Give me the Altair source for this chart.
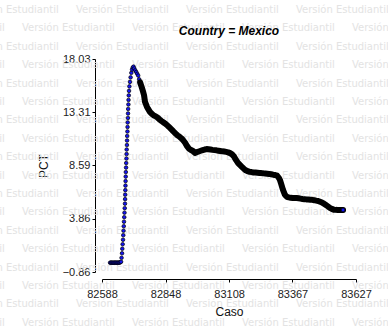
import altair as alt
import pandas as pd

# ---- data (Caso vs PCT) ----
caso = [
    82621, 82624, 82627, 82630, 82633, 82636, 82639, 82642, 82645, 82648,
    82651, 82654, 82657, 82660, 82663, 82666,
    82668, 82670, 82671, 82672.5, 82674, 82675, 82676, 82677, 82678, 82679,
    82680, 82681, 82682, 82682.5, 82683, 82683.5, 82684, 82684.5, 82685, 82685.5,
    82686.5, 82687, 82688, 82688.5, 82689, 82690, 82690.5, 82691, 82692, 82692.5,
    82693, 82694, 82694.5, 82695, 82696, 82696.5, 82697.5, 82698.5, 82700, 82702.5,
    82705, 82708, 82711, 82714, 82717,
    82720, 82724, 82728, 82732, 82736, 82740, 82744, 82748, 82752, 82756,
    82760, 82764, 82768, 82772, 82776, 82784, 82792, 82800, 82808, 82816,
    82824, 82832, 82840, 82848, 82856, 82864, 82872, 82880, 82888, 82896,
    82904, 82912, 82920, 82928, 82936, 82944, 82952, 82960, 82968, 82976,
    82984, 82992, 83000, 83008, 83016, 83024, 83032, 83040, 83048, 83056,
    83064, 83072, 83080, 83088, 83096, 83104, 83112, 83120, 83128, 83136,
    83144, 83152, 83160, 83168, 83176, 83184, 83192, 83200, 83208, 83216,
    83224, 83232, 83240, 83248, 83256, 83264, 83272, 83280, 83288, 83296,
    83304, 83312, 83316, 83320, 83324, 83328, 83332, 83336, 83340, 83344,
    83352, 83360, 83368, 83376, 83384, 83392, 83400, 83408, 83416, 83424,
    83432, 83440, 83448, 83456, 83464, 83472, 83480, 83488, 83496, 83504,
    83512, 83520, 83528, 83536, 83544, 83552, 83560, 83568, 83574,
]
pct = [
    -0.04, -0.02, -0.04, -0.03, -0.05, -0.03, -0.04, -0.02, -0.04, -0.03,
    -0.05, -0.02, -0.04, -0.02, 0.00, 0.05,
    0.40, 0.80, 1.20, 1.60, 2.00, 2.40, 2.80, 3.20, 3.60, 4.00,
    4.40, 4.80, 5.20, 5.60, 6.00, 6.40, 6.80, 7.20, 7.60, 8.00,
    8.40, 8.80, 9.20, 9.60, 10.00, 10.40, 10.80, 11.20, 11.60, 12.00,
    12.40, 12.80, 13.20, 13.60, 14.00, 14.40, 14.80, 15.20, 15.60, 16.00,
    16.40, 16.80, 17.10, 17.28, 17.35,
    17.19, 17.02, 16.88, 16.72, 16.56, 16.23, 15.95, 15.69, 15.43, 15.13,
    14.81, 14.22, 14.00, 13.77, 13.63, 13.34, 13.16, 13.02, 12.94, 12.82,
    12.65, 12.52, 12.40, 12.27, 12.13, 11.96, 11.79, 11.61, 11.44, 11.27,
    11.16, 11.01, 10.83, 10.60, 10.30, 10.07, 9.96, 9.87, 9.70, 9.77,
    9.83, 9.89, 9.95, 10.00, 10.04, 10.02, 10.00, 9.97, 9.95, 9.93,
    9.90, 9.87, 9.84, 9.82, 9.79, 9.75, 9.68, 9.57, 9.38, 9.08,
    8.82, 8.64, 8.47, 8.30, 8.16, 8.08, 8.02, 8.00, 7.97, 7.96,
    7.94, 7.92, 7.91, 7.89, 7.88, 7.86, 7.84, 7.81, 7.77, 7.74,
    7.68, 7.47, 7.30, 7.02, 6.73, 6.44, 6.22, 6.00, 5.90, 5.81,
    5.76, 5.72, 5.70, 5.70, 5.70, 5.68, 5.65, 5.62, 5.60, 5.58,
    5.57, 5.55, 5.54, 5.51, 5.47, 5.44, 5.37, 5.30, 5.20, 5.08,
    4.96, 4.83, 4.74, 4.67, 4.65, 4.64, 4.64, 4.64, 4.64,
]

x_ticks = [82588, 82848, 83108, 83367, 83627]
y_ticks = [-0.86, 3.86, 8.59, 13.31, 18.03]
title_text = "Country = Mexico"

df = pd.DataFrame({"Caso": caso, "PCT": pct})

W, H = 254, 213
LEFT, TOP = 102, 59

# ---- "Versión Estudiantil" watermark (decoration) ----
wm_rows = []
for k in range(18):
    yy = 10 + 18.4 * k - TOP
    start = (76 if k % 2 == 0 else 22) - 110
    for j in range(5):
        wm_rows.append({"px": start + 110 * j - LEFT, "py": yy, "t": "Versión Estudiantil"})
wm = pd.DataFrame(wm_rows)

watermark = alt.Chart(wm).mark_text(
    align="left", baseline="middle", font="DejaVu Sans", fontSize=10, color="#e3e3e3"
).encode(
    x=alt.X("px:Q", scale=None, axis=None),
    y=alt.Y("py:Q", scale=None, axis=None),
    text="t:N",
)

title = alt.Chart(pd.DataFrame({"t": [title_text]})).mark_text(
    align="center", baseline="middle", font="Liberation Sans", fontSize=12,
    fontStyle="italic", fontWeight="bold", color="#000000",
).encode(
    x=alt.value(W / 2),
    y=alt.value(31 - TOP),
    text="t:N",
)

xs = alt.Scale(domain=[82588, 83627], nice=False, zero=False)
ys = alt.Scale(domain=[-0.86, 18.03], nice=False, zero=False)

points = alt.Chart(df).mark_point(
    filled=True, fill="#1414f0", stroke="#000000", strokeWidth=0.7, size=13, opacity=1
).encode(
    x=alt.X(
        "Caso:Q", scale=xs,
        axis=alt.Axis(
            values=x_ticks, format="d", offset=7, tickSize=3, labelPadding=6,
            labelFlush=False, labelOverlap=False, grid=False,
            title="Caso", titlePadding=7,
        ),
    ),
    y=alt.Y(
        "PCT:Q", scale=ys,
        axis=alt.Axis(
            values=y_ticks, format=".2f", offset=7, tickSize=3, labelPadding=2,
            labelFlush=False, labelOverlap=False, grid=False,
            title="PCT", titlePadding=12,
        ),
    ),
)

band = alt.Chart(df).transform_filter(alt.datum.Caso >= 82744).mark_line(
    color="#000000", strokeWidth=6, strokeJoin="round", strokeCap="round"
).encode(x=alt.X("Caso:Q", scale=xs), y=alt.Y("PCT:Q", scale=ys))

last = alt.Chart(df).transform_filter(alt.datum.Caso >= 83574).mark_point(
    filled=True, fill="#1414f0", stroke="#000000", strokeWidth=0.6, size=14, opacity=1
).encode(x=alt.X("Caso:Q", scale=xs), y=alt.Y("PCT:Q", scale=ys))

data_layer = alt.layer(points, band, last)

chart = alt.layer(watermark, title, data_layer).resolve_scale(
    x="independent", y="independent"
).properties(
    width=W,
    height=H,
    background="white",
    autosize=alt.AutoSizeParams(type="none"),
    padding={"left": LEFT, "top": TOP, "right": 388 - LEFT - W, "bottom": 335 - TOP - H},
).configure_view(stroke=None).configure_axis(
    labelFont="Liberation Sans", labelFontSize=11, labelColor="#222222",
    titleFont="Liberation Sans", titleFontSize=12, titleFontWeight="normal",
    titleColor="#111111", domainColor="#000000", tickColor="#000000",
    domainWidth=1, tickWidth=1,
)

chart.save("out.html", embed_options={"renderer": "svg", "actions": False})
